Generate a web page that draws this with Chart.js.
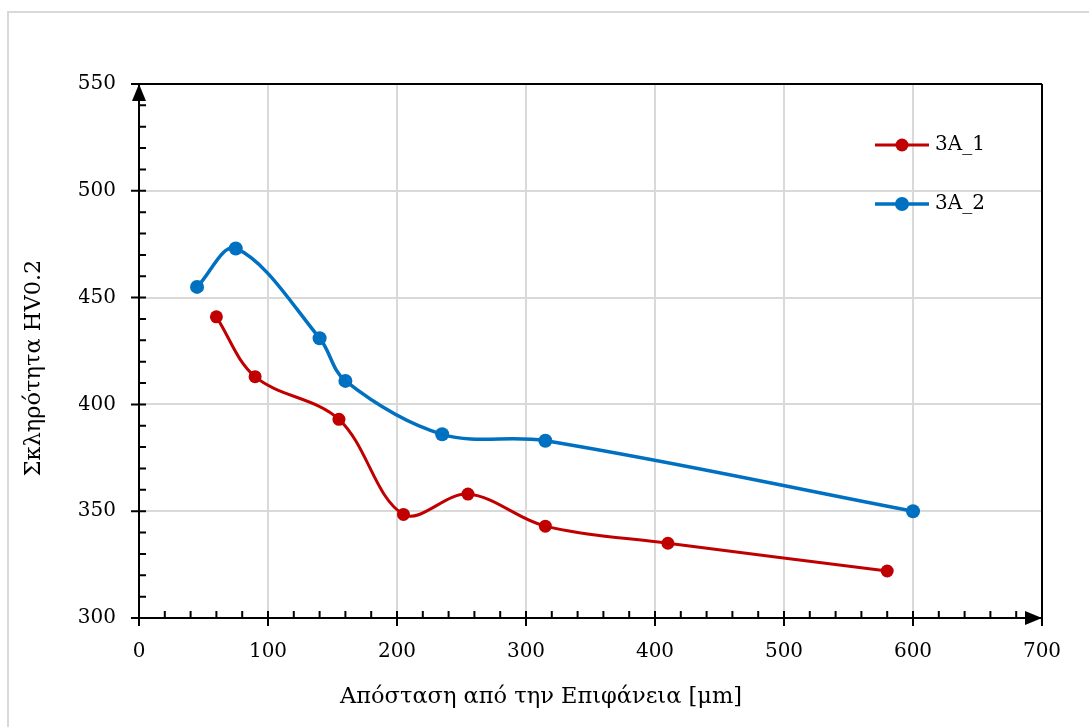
<!DOCTYPE html>
<html>
<head>
<meta charset="utf-8">
<script src="https://cdn.jsdelivr.net/npm/chart.js@4/dist/chart.umd.min.js"></script>
<style>
    html, body { margin: 0; padding: 0; background: #fff; }
    #wrap { width: 1089px; height: 727px; }
</style>
</head>
<body>
<div id="wrap"><canvas id="hardness"></canvas></div>
<script>
// hardness profiles: distance from surface [μm] vs HV0.2
const seriesNames = ["3A_1", "3A_2"];
const distances1 = [60, 90, 155, 205, 255, 315, 410, 580];
const hardness1 = [441, 413, 393, 348.5, 358, 343, 335, 322];
const distances2 = [45, 75, 140, 160, 235, 315, 600];
const hardness2 = [455, 473, 431, 411, 386, 383, 350];
const xTicks = [0, 100, 200, 300, 400, 500, 600, 700];
const yTicks = [300, 350, 400, 450, 500, 550];

const xTitle = "Απόσταση από την Επιφάνεια [μm]";
const yTitle = "Σκληρότητα HV0.2";

const fontFamily = "'DejaVu Serif', 'Liberation Serif', serif";
const red = "#C00000";
const blue = "#0070C0";

const toPoints = (xs, ys) => xs.map((x, i) => ({ x: x, y: ys[i] }));

// black axes with arrows, minor ticks, outer frame, titles, legend
const framePlugin = {
    id: "framePlugin",
    beforeDraw(chart) {
        const ctx = chart.ctx;
        ctx.save();
        ctx.strokeStyle = "#d9d9d9";
        ctx.lineWidth = 2;
        ctx.strokeRect(8, 12, 2000, 2000);
        ctx.restore();
    },
    beforeDatasetsDraw(chart) {
        const ctx = chart.ctx;
        const { left, right, top, bottom } = chart.chartArea;
        const xs = chart.scales.x;
        const ys = chart.scales.y;
        ctx.save();
        ctx.strokeStyle = "#000";
        ctx.lineWidth = 2;

        // frame lines
        ctx.beginPath();
        ctx.moveTo(left, bottom); ctx.lineTo(right, bottom);
        ctx.moveTo(left, bottom); ctx.lineTo(left, top);
        ctx.moveTo(left, top); ctx.lineTo(right, top);
        ctx.moveTo(right, top); ctx.lineTo(right, bottom + 8);
        ctx.stroke();

        // y ticks: majors cross, minors inside
        ctx.beginPath();
        for (let v = 300; v <= 550; v += 10) {
            const py = ys.getPixelForValue(v);
            if (v % 50 === 0) {
                ctx.moveTo(left - 8, py); ctx.lineTo(left + 7, py);
            } else {
                ctx.moveTo(left, py); ctx.lineTo(left + 7, py);
            }
        }
        // x ticks
        for (let v = 0; v <= 700; v += 20) {
            const px = xs.getPixelForValue(v);
            if (v % 100 === 0) {
                ctx.moveTo(px, bottom + 8); ctx.lineTo(px, bottom - 7);
            } else {
                ctx.moveTo(px, bottom); ctx.lineTo(px, bottom - 7);
            }
        }
        ctx.stroke();

        // arrow heads
        ctx.fillStyle = "#000";
        ctx.beginPath();
        ctx.moveTo(left, top);
        ctx.lineTo(left - 7, top + 17);
        ctx.lineTo(left + 7, top + 17);
        ctx.closePath();
        ctx.fill();
        ctx.beginPath();
        ctx.moveTo(right, bottom);
        ctx.lineTo(right - 17, bottom - 7);
        ctx.lineTo(right - 17, bottom + 7);
        ctx.closePath();
        ctx.fill();

        // axis titles
        ctx.font = "22.5px " + fontFamily;
        ctx.fillStyle = "#000";
        ctx.textAlign = "center";
        ctx.textBaseline = "middle";
        ctx.fillText(xTitle, 541, 697);
        ctx.translate(34, 368);
        ctx.rotate(-Math.PI / 2);
        ctx.fillText(yTitle, 0, 0);
        ctx.restore();
    },
    afterDraw(chart) {
        const ctx = chart.ctx;
        ctx.save();
        const rows = [145, 204];
        chart.data.datasets.forEach((ds, i) => {
            const y = rows[i];
            ctx.strokeStyle = ds.borderColor;
            ctx.lineWidth = ds.borderWidth;
            ctx.beginPath();
            ctx.moveTo(875, y); ctx.lineTo(929, y);
            ctx.stroke();
            ctx.fillStyle = ds.pointBackgroundColor;
            ctx.beginPath();
            ctx.arc(902, y, ds.pointRadius, 0, Math.PI * 2);
            ctx.fill();
            ctx.fillStyle = "#000";
            ctx.font = "20px " + fontFamily;
            ctx.textAlign = "left";
            ctx.textBaseline = "middle";
            ctx.fillText(ds.label, 935, y);
        });
        ctx.restore();
    }
};

new Chart(document.getElementById("hardness"), {
    type: "scatter",
    data: {
        datasets: [
            {
                label: seriesNames[0],
                data: toPoints(distances1, hardness1),
                showLine: true,
                borderColor: red,
                backgroundColor: red,
                pointBackgroundColor: red,
                pointBorderWidth: 0,
                borderWidth: 3,
                pointRadius: 6.5,
                tension: 0.35
            },
            {
                label: seriesNames[1],
                data: toPoints(distances2, hardness2),
                showLine: true,
                borderColor: blue,
                backgroundColor: blue,
                pointBackgroundColor: blue,
                pointBorderWidth: 0,
                borderWidth: 3.5,
                pointRadius: 7,
                tension: 0.35
            }
        ]
    },
    options: {
        responsive: true,
        maintainAspectRatio: false,
        animation: false,
        events: [],
        layout: { padding: { left: 79, right: 47, top: 84, bottom: 49 } },
        plugins: {
            legend: { display: false },
            tooltip: { enabled: false }
        },
        scales: {
            x: {
                type: "linear",
                min: 0,
                max: 700,
                afterBuildTicks: axis => { axis.ticks = xTicks.map(v => ({ value: v })); },
                afterFit: axis => { axis.height = 60; },
                grid: { color: "#d9d9d9", lineWidth: 2, drawTicks: false },
                border: { display: false },
                ticks: { color: "#000", padding: 22, font: { family: fontFamily, size: 20 } }
            },
            y: {
                type: "linear",
                min: 300,
                max: 550,
                afterBuildTicks: axis => { axis.ticks = yTicks.map(v => ({ value: v })); },
                afterFit: axis => { axis.width = 60; },
                grid: { color: "#d9d9d9", lineWidth: 2, drawTicks: false },
                border: { display: false },
                ticks: { color: "#000", padding: 23, font: { family: fontFamily, size: 20 } }
            }
        }
    },
    plugins: [framePlugin]
});
</script>
</body>
</html>
